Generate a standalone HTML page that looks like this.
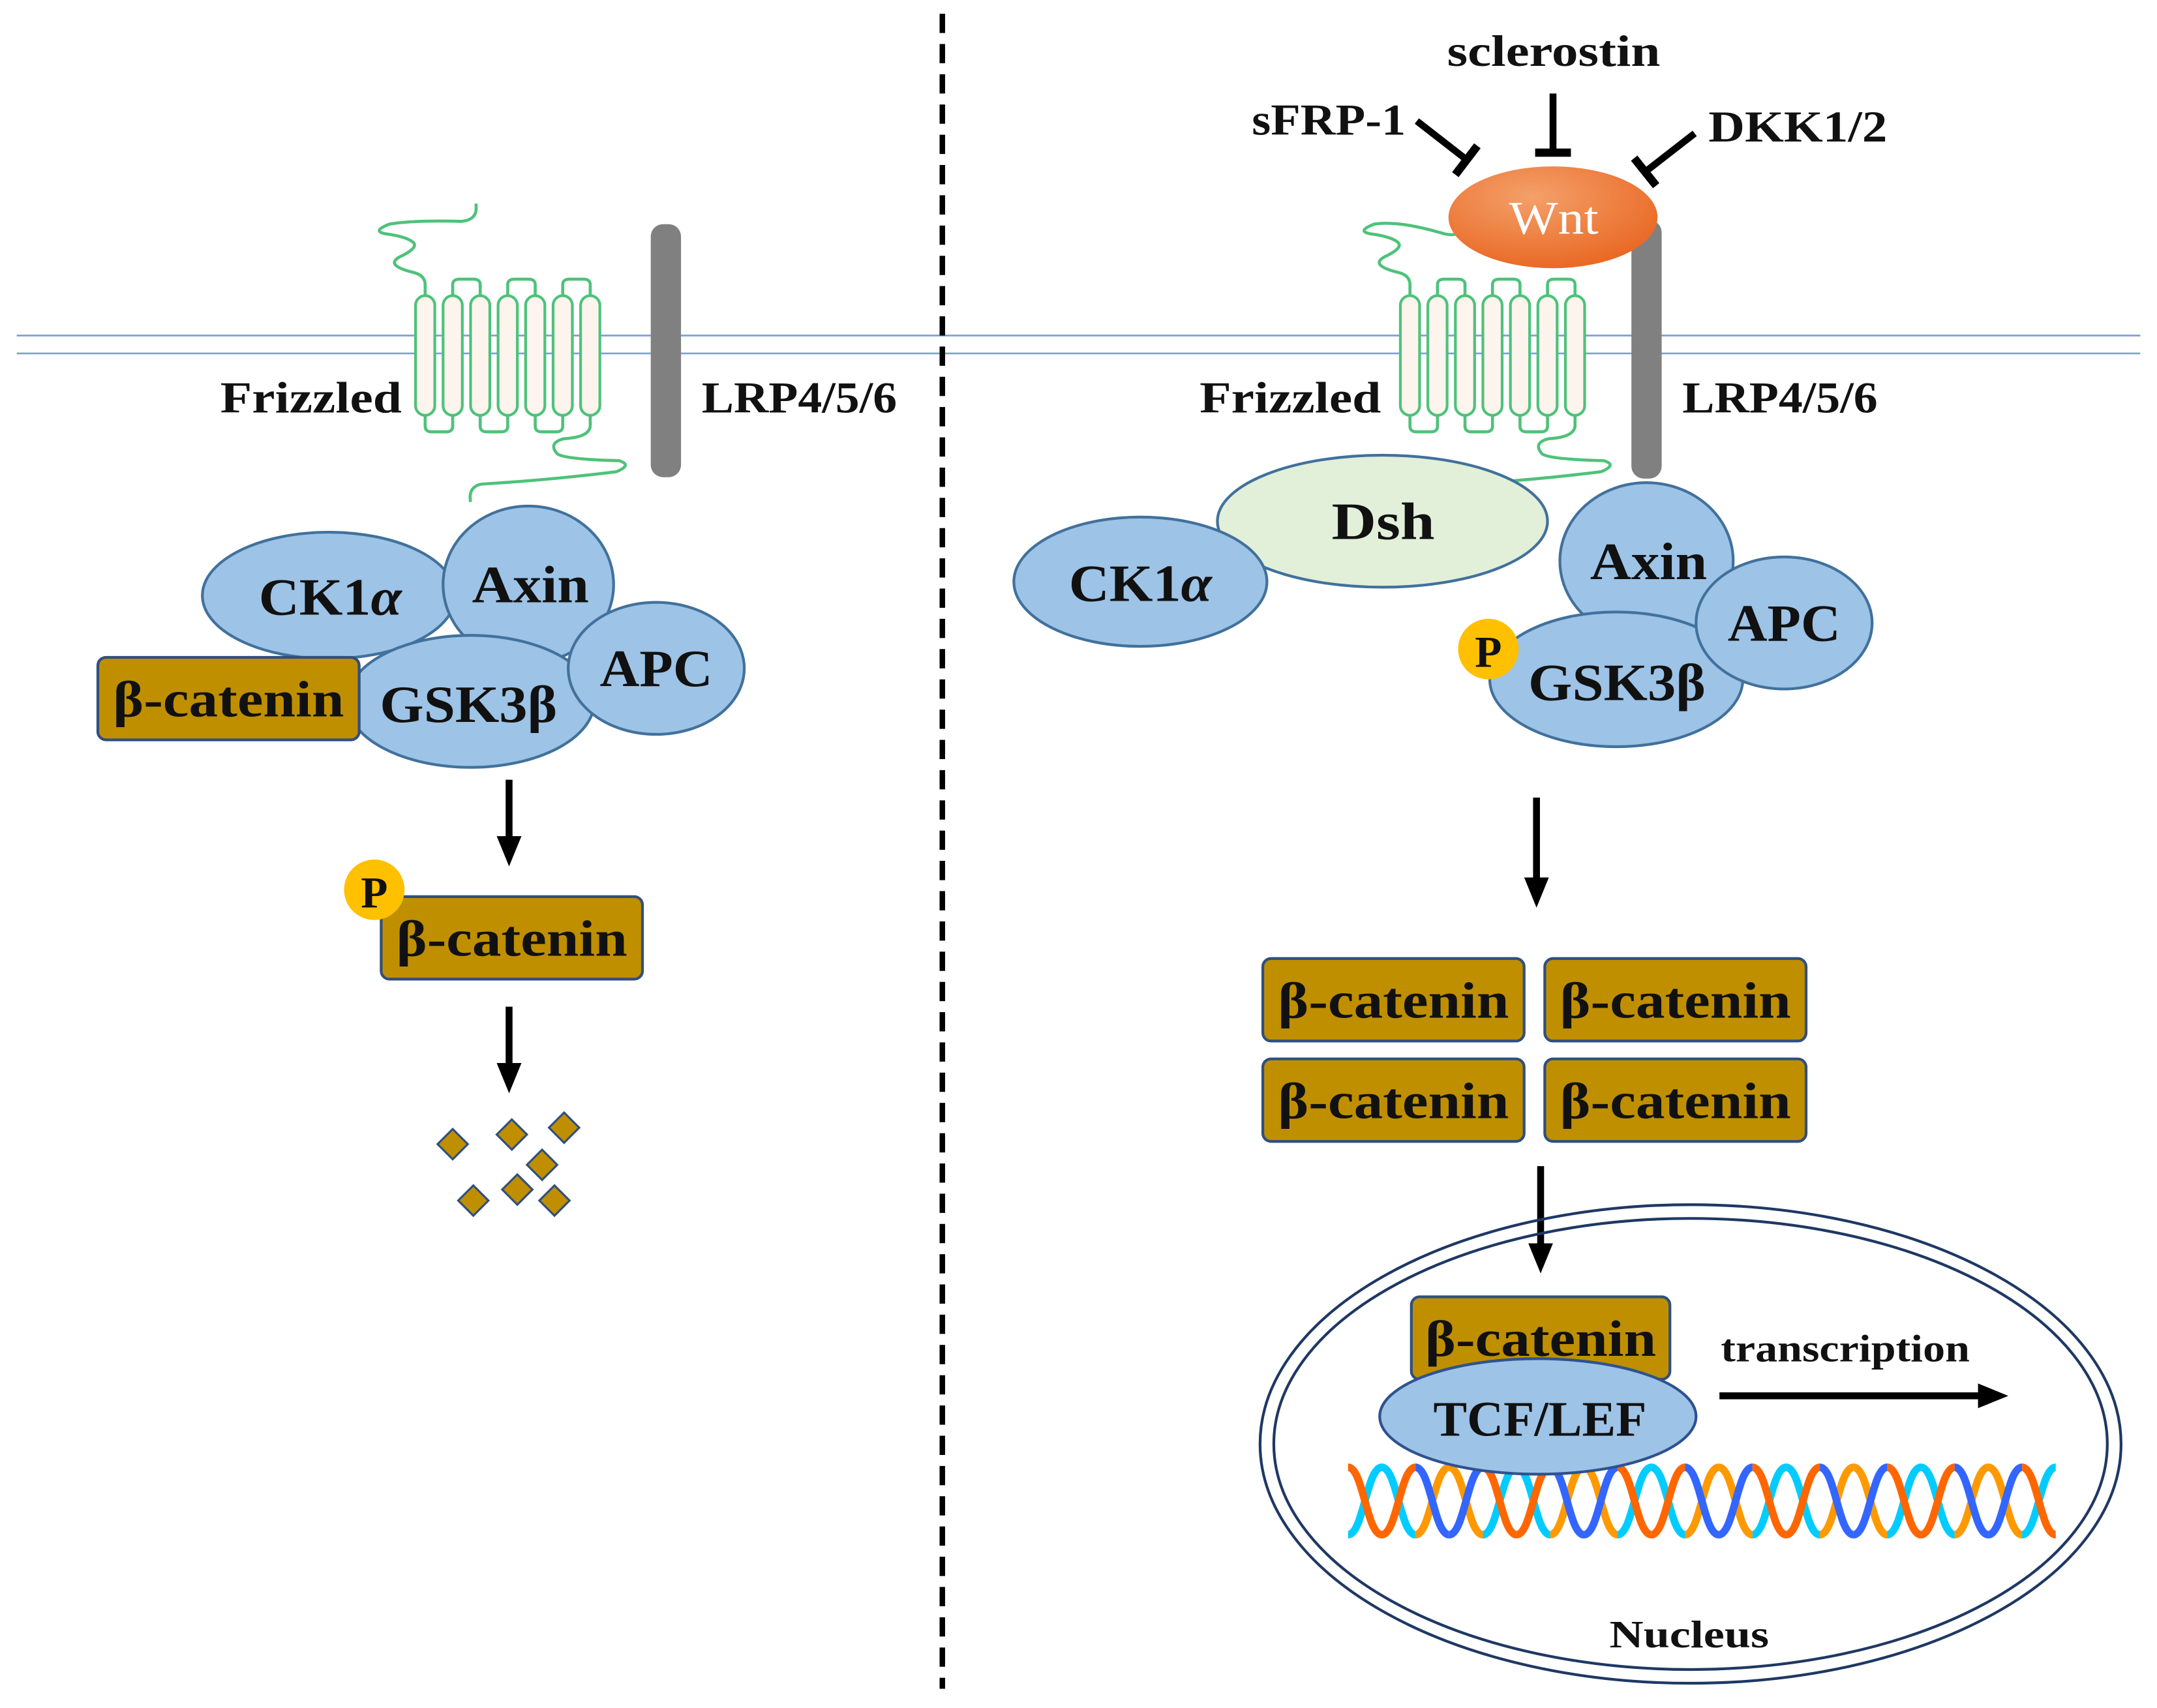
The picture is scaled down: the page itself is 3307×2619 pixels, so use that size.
<!DOCTYPE html>
<html><head><meta charset="utf-8"><style>
html,body{margin:0;padding:0;background:#fff;}
svg{display:block;}
text{font-family:"Liberation Serif",serif;font-weight:bold;fill:#111;}
</style></head><body>
<svg id="s" width="3307" height="2619" viewBox="0 0 1568 1242" xmlns="http://www.w3.org/2000/svg">
<defs>
<marker id="ah" markerWidth="22" markerHeight="22" refX="4" refY="11" orient="auto" markerUnits="userSpaceOnUse" viewBox="0 0 22 22"><path d="M0,2 L22,11 L0,20 z" fill="#000"/></marker>
<radialGradient id="wg" cx="0.4" cy="0.3" r="0.8"><stop offset="0" stop-color="#f4a06a"/><stop offset="1" stop-color="#e8621c"/></radialGradient>
</defs>
<line x1="12" y1="244" x2="1556" y2="244" stroke="#7f9ed8" stroke-width="1.3"/>
<line x1="12" y1="257" x2="1556" y2="257" stroke="#7f9ed8" stroke-width="1.3"/>
<line x1="685" y1="10" x2="685" y2="1228" stroke="#000" stroke-width="4" stroke-dasharray="14,8"/>
<g id="fz1"></g>
<g id="fz2"></g>
<rect x="473" y="163" width="22" height="184" rx="9" fill="#808080"/>
<rect x="1186" y="160" width="22" height="188" rx="9" fill="#808080"/>
<text x="160" y="300" font-size="32" textLength="132" lengthAdjust="spacingAndGlyphs">Frizzled</text>
<text x="510" y="300" font-size="32" textLength="142" lengthAdjust="spacingAndGlyphs">LRP4/5/6</text>
<text x="872" y="300" font-size="32" textLength="132" lengthAdjust="spacingAndGlyphs">Frizzled</text>
<text x="1223" y="300" font-size="32" textLength="142" lengthAdjust="spacingAndGlyphs">LRP4/5/6</text>

<g stroke="#41719c" stroke-width="2" fill="#9dc3e6">
<ellipse cx="239" cy="433" rx="92" ry="46"/>
<ellipse cx="384" cy="425" rx="62" ry="57"/>
<ellipse cx="342" cy="510" rx="90" ry="48"/>
<ellipse cx="477" cy="486" rx="64" ry="48"/>
</g>
<text x="188" y="447" font-size="38" textLength="104" lengthAdjust="spacingAndGlyphs">CK1<tspan font-style="italic">α</tspan></text>
<text x="343" y="438" font-size="38" textLength="85" lengthAdjust="spacingAndGlyphs">Axin</text>
<text x="276" y="525" font-size="38" textLength="129" lengthAdjust="spacingAndGlyphs">GSK3β</text>
<text x="436" y="499" font-size="38" textLength="82" lengthAdjust="spacingAndGlyphs">APC</text>
<rect x="71" y="478" width="190" height="60" rx="6" fill="#bf8f00" stroke="#2f4f7f" stroke-width="2"/>
<text x="82" y="521" font-size="37" textLength="168" lengthAdjust="spacingAndGlyphs">β-catenin</text>
<line x1="370" y1="567" x2="370" y2="612" stroke="#000" stroke-width="5" marker-end="url(#ah)"/>
<rect x="277" y="652" width="190" height="60" rx="6" fill="#bf8f00" stroke="#2f4f7f" stroke-width="2"/>
<text x="288" y="695" font-size="37" textLength="168" lengthAdjust="spacingAndGlyphs">β-catenin</text>
<circle cx="272" cy="647" r="22" fill="#ffc000"/>
<text x="272" y="660" font-size="32" text-anchor="middle">P</text>
<line x1="370" y1="732" x2="370" y2="777" stroke="#000" stroke-width="5" marker-end="url(#ah)"/>
<g id="dia" fill="#bf8f00" stroke="#2f4f7f" stroke-width="1.5"></g>

<text x="1052" y="48" font-size="32" textLength="155" lengthAdjust="spacingAndGlyphs">sclerostin</text>
<line x1="1129" y1="68" x2="1129" y2="110" stroke="#000" stroke-width="5"/>
<line x1="1116" y1="111" x2="1142" y2="111" stroke="#000" stroke-width="6"/>
<text x="910" y="98" font-size="32" textLength="112" lengthAdjust="spacingAndGlyphs">sFRP-1</text>
<line x1="1030" y1="88" x2="1066" y2="116" stroke="#000" stroke-width="5"/>
<line x1="1058" y1="127" x2="1074" y2="106" stroke="#000" stroke-width="6"/>
<text x="1242" y="103" font-size="32" textLength="130" lengthAdjust="spacingAndGlyphs">DKK1/2</text>
<line x1="1232" y1="97" x2="1196" y2="125" stroke="#000" stroke-width="5"/>
<line x1="1188" y1="115" x2="1204" y2="135" stroke="#000" stroke-width="6"/>
<ellipse cx="1129" cy="158" rx="76" ry="37" fill="url(#wg)"/>
<text x="1097" y="170" font-size="34" textLength="65" lengthAdjust="spacingAndGlyphs" style="font-weight:normal;fill:#fff">Wnt</text>

<g stroke="#41719c" stroke-width="2">
<ellipse cx="1005" cy="379" rx="120" ry="48" fill="#e2efd9"/>
<ellipse cx="829" cy="423" rx="92" ry="47" fill="#9dc3e6"/>
<ellipse cx="1197" cy="408" rx="63" ry="57" fill="#9dc3e6"/>
<ellipse cx="1175" cy="494" rx="92" ry="49" fill="#9dc3e6"/>
<ellipse cx="1297" cy="453" rx="64" ry="48" fill="#9dc3e6"/>
</g>
<text x="968" y="392" font-size="38" textLength="75" lengthAdjust="spacingAndGlyphs">Dsh</text>
<text x="777" y="437" font-size="38" textLength="104" lengthAdjust="spacingAndGlyphs">CK1<tspan font-style="italic">α</tspan></text>
<text x="1156" y="421" font-size="38" textLength="85" lengthAdjust="spacingAndGlyphs">Axin</text>
<text x="1111" y="509" font-size="38" textLength="129" lengthAdjust="spacingAndGlyphs">GSK3β</text>
<text x="1256" y="466" font-size="38" textLength="82" lengthAdjust="spacingAndGlyphs">APC</text>
<circle cx="1082" cy="472" r="22" fill="#ffc000"/>
<text x="1082" y="485" font-size="32" text-anchor="middle">P</text>
<line x1="1117" y1="580" x2="1117" y2="642" stroke="#000" stroke-width="5" marker-end="url(#ah)"/>

<g fill="#bf8f00" stroke="#2f4f7f" stroke-width="2">
<rect x="918" y="697" width="190" height="60" rx="6"/>
<rect x="1123" y="697" width="190" height="60" rx="6"/>
<rect x="918" y="770" width="190" height="60" rx="6"/>
<rect x="1123" y="770" width="190" height="60" rx="6"/>
</g>
<text x="929" y="740" font-size="37" textLength="168" lengthAdjust="spacingAndGlyphs">β-catenin</text>
<text x="1134" y="740" font-size="37" textLength="168" lengthAdjust="spacingAndGlyphs">β-catenin</text>
<text x="929" y="813" font-size="37" textLength="168" lengthAdjust="spacingAndGlyphs">β-catenin</text>
<text x="1134" y="813" font-size="37" textLength="168" lengthAdjust="spacingAndGlyphs">β-catenin</text>
<line x1="1120" y1="848" x2="1120" y2="908" stroke="#000" stroke-width="5" marker-end="url(#ah)"/>

<ellipse cx="1229" cy="1050" rx="313" ry="174" fill="none" stroke="#1f3864" stroke-width="2"/>
<ellipse cx="1229" cy="1050" rx="303" ry="164" fill="none" stroke="#1f3864" stroke-width="2"/>
<g id="dna" fill="none" stroke-width="5.5"></g>
<rect x="1026" y="943" width="188" height="60" rx="6" fill="#bf8f00" stroke="#2f4f7f" stroke-width="2"/>
<text x="1036" y="986" font-size="37" textLength="168" lengthAdjust="spacingAndGlyphs">β-catenin</text>
<ellipse cx="1118" cy="1030" rx="115" ry="42" fill="#9dc3e6" stroke="#2f528f" stroke-width="2"/>
<text x="1042" y="1044" font-size="36" textLength="155" lengthAdjust="spacingAndGlyphs">TCF/LEF</text>
<text x="1251" y="990" font-size="28" textLength="181" lengthAdjust="spacingAndGlyphs">transcription</text>
<line x1="1250" y1="1015" x2="1442" y2="1015" stroke="#000" stroke-width="5" marker-end="url(#ah)"/>
<text x="1170" y="1198" font-size="28" textLength="116" lengthAdjust="spacingAndGlyphs">Nucleus</text>
</svg>
<script>
(function(){
var NS="http://www.w3.org/2000/svg";
function el(p,t,a){var e=document.createElementNS(NS,t);for(var k in a)e.setAttribute(k,a[k]);p.appendChild(e);return e;}
function fz(g,x0,tail1,tail2){
  var G=document.getElementById(g);var st={fill:"none",stroke:"#4ec27a","stroke-width":2.2};
  el(G,"path",Object.assign({d:tail1},st));
  el(G,"path",Object.assign({d:tail2},st));
  for(var i=0;i<6;i++){
    var x=x0+i*20;
    if(i%2==0) el(G,"path",Object.assign({d:"M"+(x+7)+",302 L"+(x+7)+",310 Q"+(x+7)+",314 "+(x+12)+",314 L"+(x+22)+",314 Q"+(x+27)+",314 "+(x+27)+",310 L"+(x+27)+",302"},st));
    else el(G,"path",Object.assign({d:"M"+(x+7)+",215 L"+(x+7)+",207 Q"+(x+7)+",203 "+(x+12)+",203 L"+(x+22)+",203 Q"+(x+27)+",203 "+(x+27)+",207 L"+(x+27)+",215"},st));
  }
  for(var i=0;i<7;i++){var x=x0+i*20;
    el(G,"rect",{x:x,y:215,width:14,height:87,rx:7,fill:"#fdf4ee",stroke:"#4ec27a","stroke-width":2});}
}
fz("fz1",302,"M309,215 L309,207 Q309,200 300,198 Q280,193 290,187 Q305,180 300,176 Q295,172 280,170 Q270,168 283,163 Q300,160 335,161 Q347,160 346,150 L346,148",
 "M429,302 L429,310 Q428,318 410,319 Q398,322 405,330 Q410,334 450,335 Q460,338 448,343 Q400,349 350,352 Q340,354 342,365");
fz("fz2",1018,"M1025,215 L1025,207 Q1025,200 1016,198 Q996,193 1006,187 Q1021,180 1016,176 Q1011,172 996,170 Q986,168 999,163 Q1016,160 1050,170 Q1060,172 1060,168",
 "M1145,302 L1145,310 Q1144,318 1126,319 Q1114,322 1121,330 Q1126,334 1166,335 Q1176,338 1164,343 Q1116,349 1066,352 Q1056,354 1058,365");
var D=document.getElementById("dia");
[[329,832],[372,825],[410,820],[394,847],[344,873],[376,865],[403,873]].forEach(function(p){
  var s=11;el(D,"path",{d:"M"+p[0]+","+(p[1]-s)+" L"+(p[0]+s)+","+p[1]+" L"+p[0]+","+(p[1]+s)+" L"+(p[0]-s)+","+p[1]+" z"});
});
var N=document.getElementById("dna");
var yt=1067,yb=1116,h=24.5,xs=980;
var desc=["#ff6600","#3366ff"],asc=["#00ccff","#ff9900"];
for(var i=0;i<21;i++){
  var x0=xs+i*h,x1=x0+h,k=(i/2|0)%2;
  var aDown=(i%2==0);
  var a0=aDown?yt:yb,a1=aDown?yb:yt;
  el(N,"path",{d:"M"+x0+","+a1+" C"+(x0+h*0.45)+","+a1+" "+(x0+h*0.55)+","+a0+" "+x1+","+a0,stroke:asc[k]});
  el(N,"path",{d:"M"+x0+","+a0+" C"+(x0+h*0.45)+","+a0+" "+(x0+h*0.55)+","+a1+" "+x1+","+a1,stroke:desc[k]});
}
})();
</script>
</body></html>
